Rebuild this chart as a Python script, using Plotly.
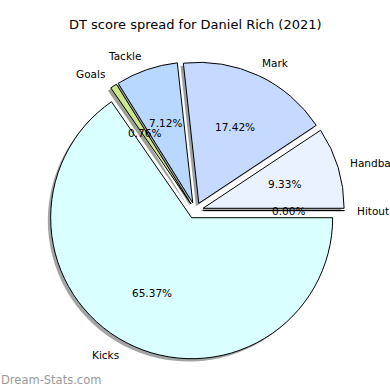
import math
import plotly.graph_objects as go

labels = ["Hitout", "Handball", "Mark", "Tackle", "Goals", "Kicks"]
values = [0.00, 9.33, 17.42, 7.12, 0.76, 65.37]
colors = ["#E4ECFF", "#EAF2FF", "#C6DAFF", "#B8D8FF", "#CCE68A", "#D9FFFF"]
explode = [0.057, 0.057, 0.057, 0.057, 0.057, 0.057]
title_text = "DT score spread for Daniel Rich (2021)"
watermark = "Dream-Stats.com"

W = H = 390
CX, CY = 195.4, 210.6   # pie centre in pixels
R = 141.0               # pie radius in pixels
FONT = "DejaVu Sans"
LBL = 10.5
TTL = 13.0

maxpull = max(explode)
half = R * (1 + maxpull)


def dom(cx, cy):
    return dict(x=[(cx - half) / W, (cx + half) / W],
                y=[1 - (cy + half) / H, 1 - (cy - half) / H])


def px(x, y):
    return x / W, 1 - y / H


def shade(hexc):
    h = hexc.lstrip("#")
    r, g, b = (int(h[i:i + 2], 16) for i in (0, 2, 4))
    return "rgba(%d,%d,%d,0.5)" % (r * 0.3, g * 0.3, b * 0.3)


fig = go.Figure()
# shadow
fig.add_trace(go.Pie(
    labels=labels, values=values, sort=False, direction="counterclockwise",
    rotation=90, pull=explode, textinfo="none", hoverinfo="skip",
    marker=dict(colors=[shade(c) for c in colors], line=dict(width=0)),
    domain=dom(CX - 0.02 * R, CY + 0.02 * R), showlegend=False))
# main pie
fig.add_trace(go.Pie(
    labels=labels, values=values, sort=False, direction="counterclockwise",
    rotation=90, pull=explode, textinfo="none", hoverinfo="label+percent",
    marker=dict(colors=colors, line=dict(color="black", width=1)),
    domain=dom(CX, CY), showlegend=False))

annotations = []
total = sum(values)
cum = 0.0
for lab, v, e in zip(labels, values, explode):
    frac = v / total
    theta = math.radians(360 * (cum + frac / 2))
    cum += frac
    c, s = math.cos(theta), math.sin(theta)
    wx, wy = CX + e * R * c, CY - e * R * s
    lx, ly = wx + 1.1 * R * c, wy - 1.1 * R * s
    x, y = px(lx, ly)
    left = (e + 1.1) * c > 0
    annotations.append(dict(x=x, y=y, xref="paper", yref="paper", text=lab,
                            showarrow=False, xanchor="left" if left else "right",
                            xshift=-3 if left else 0, borderpad=0,
                            yanchor="middle", font=dict(family=FONT, size=LBL, color="black")))
    tx, ty = wx + 0.6 * R * c, wy - 0.6 * R * s
    x, y = px(tx, ty)
    annotations.append(dict(x=x, y=y, xref="paper", yref="paper", text="%.2f%%" % (frac * 100),
                            showarrow=False, xanchor="center", yanchor="middle",
                            font=dict(family=FONT, size=LBL, color="black")))

x, y = px(W / 2, 25)
annotations.append(dict(x=x, y=y, xref="paper", yref="paper", text=title_text, showarrow=False,
                        xanchor="center", yanchor="middle",
                        font=dict(family=FONT, size=TTL, color="black")))
x, y = px(0, 380)
annotations.append(dict(x=x, y=y, xref="paper", yref="paper", text=watermark, showarrow=False,
                        xanchor="left", yanchor="middle", borderpad=0,
                        font=dict(family=FONT, size=11.5, color="#999999")))

fig.update_layout(width=W, height=H, margin=dict(l=0, r=0, t=0, b=0),
                  paper_bgcolor="white", plot_bgcolor="white",
                  annotations=annotations, showlegend=False)
fig.write_html("out.html", config={"displayModeBar": False},
               post_script="document.body.style.margin='0px';")
